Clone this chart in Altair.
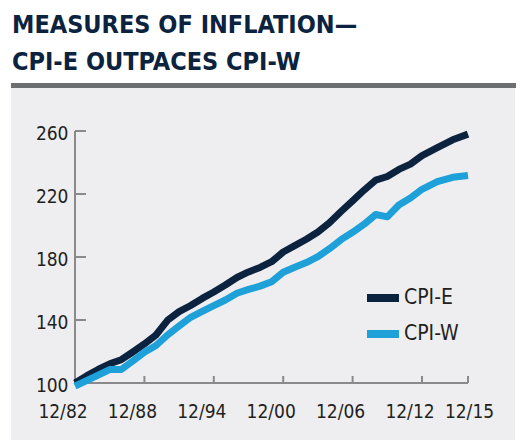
import altair as alt
import pandas as pd

years = list(range(1982, 2016))
cpi_e = [100, 104.5, 108.6, 112.2, 114.8, 119.7, 124.8, 130.5, 139.8, 145.3,
         149.2, 153.7, 157.8, 162.2, 167, 170.5, 173.4, 177, 183.2, 187.2,
         191.3, 195.9, 201.8, 208.9, 215.6, 222.5, 228.8, 231.1, 235.6, 239,
         244.4, 249.4, 254.4, 258]
cpi_w = [98, 101.5, 105, 108.5, 108.6, 114, 119.5, 123.8, 130.5, 136.2,
         141.7, 145.5, 149.2, 152.7, 157, 159.4, 161.5, 164.3, 170.3, 173.5,
         176.5, 180.2, 185.3, 191, 195.7, 200.8, 207, 205.5, 213, 217.5,
         223, 227.8, 230.6, 231.8]
series_names = ["CPI-E", "CPI-W"]
y_ticks = [100, 140, 180, 220, 260]
x_tick_years = [1982, 1988, 1994, 2000, 2006, 2012, 2015]
x_tick_labels = ["12/82", "12/88", "12/94", "12/00", "12/06", "12/12", "12/15"]
title_lines = ["MEASURES OF INFLATION\u2014", "CPI-E OUTPACES CPI-W"]

DARK = "#0c2340"
LIGHT = "#1ea0d9"
AXIS_GRAY = "#8a8a8c"
TEXT = "#231f20"
FONT = "DejaVu Sans Condensed, sans-serif"

W, H = 393, 252

df = pd.DataFrame({
    "year": years * 2,
    "value": cpi_e + cpi_w,
    "series": [series_names[0]] * len(years) + [series_names[1]] * len(years),
})
ticks_df = pd.DataFrame({"t": x_tick_years, "label": x_tick_labels})

# the reference's time axis is stretched over its last three years
xscale = alt.Scale(type="linear", domain=[1982, 2012, 2015], range=[0, 347, W], nice=False, zero=False)
yscale = alt.Scale(domain=[100, 260], nice=False, zero=False)

one = alt.Data(values=[{"a": 1}])

panel = alt.Chart(one).mark_rect(color="#eeeef0").encode(
    x=alt.value(-64), x2=alt.value(440), y=alt.value(-43), y2=alt.value(309)
)
bar = alt.Chart(one).mark_rect(color="#6d6e70").encode(
    x=alt.value(-64), x2=alt.value(460), y=alt.value(-48), y2=alt.value(-43)
)
title = alt.Chart(alt.Data(values=[{"t": "\n".join(title_lines)}])).mark_text(
    font=FONT, fontSize=25, fontWeight="bold", color=DARK, align="left",
    baseline="alphabetic", lineBreak="\n", lineHeight=37
).encode(text="t:N", x=alt.value(-63), y=alt.value(-98))

ydom = alt.Chart(one).mark_rule(color=AXIS_GRAY, strokeWidth=2).encode(
    x=alt.X(datum=1982, type="quantitative", scale=xscale),
    y=alt.Y(datum=100, type="quantitative", scale=yscale),
    y2=alt.Y2(datum=260),
)
xdom = alt.Chart(one).mark_rule(color=AXIS_GRAY, strokeWidth=2).encode(
    x=alt.X(datum=1982, type="quantitative", scale=xscale),
    x2=alt.X2(datum=2015),
    y=alt.Y(datum=100, type="quantitative", scale=yscale),
)
yt = alt.Chart(pd.DataFrame({"v": y_ticks})).mark_rule(color=AXIS_GRAY, strokeWidth=2).encode(
    y=alt.Y("v:Q", scale=yscale), x=alt.value(0), x2=alt.value(11)
)
xt = alt.Chart(ticks_df).mark_rule(color=AXIS_GRAY, strokeWidth=2).encode(
    x=alt.X("t:Q", scale=xscale), y=alt.value(H), y2=alt.value(H - 7)
)

xlab_style = dict(font=FONT, fontSize=19, color=TEXT, align="center", baseline="alphabetic")
xlab_main = alt.Chart(ticks_df).transform_filter("datum.t < 2015").mark_text(dx=-12, **xlab_style).encode(
    x=alt.X("t:Q", scale=xscale), y=alt.value(H + 35), text="label:N"
)
xlab_last = alt.Chart(ticks_df).transform_filter("datum.t == 2015").mark_text(dx=1.5, **xlab_style).encode(
    x=alt.X("t:Q", scale=xscale), y=alt.value(H + 35), text="label:N"
)

lines = alt.Chart(df).mark_line(strokeWidth=7, strokeJoin="round", strokeCap="butt").encode(
    x=alt.X("year:Q", scale=xscale, title=None,
            axis=alt.Axis(values=x_tick_years, labels=False, ticks=False, tickSize=0,
                          domain=False, grid=False)),
    y=alt.Y("value:Q", scale=yscale, title=None,
            axis=alt.Axis(values=y_ticks, ticks=False, tickSize=0, domain=False, grid=False, zindex=2,
                          labelFont=FONT, labelFontSize=19, labelColor=TEXT,
                          labelPadding=7, labelOffset=2)),
    color=alt.Color("series:N", scale=alt.Scale(domain=series_names, range=[DARK, LIGHT]),
                    legend=alt.Legend(title=None, orient="none", legendX=288, legendY=147,
                                      symbolType="stroke", symbolSize=1024, symbolStrokeWidth=8,
                                      labelFont=FONT, labelFontSize=21, labelColor=TEXT,
                                      labelOffset=1, rowPadding=-3, padding=0, zindex=2)),
)

chart = alt.layer(panel, bar, title, ydom, xdom, yt, xt, xlab_main, xlab_last, lines).properties(
    width=W, height=H, background="white",
    padding={"left": 67, "top": 123, "right": 48, "bottom": 57},
    autosize=alt.AutoSizeParams(type="none"),
).configure_view(stroke=None)

chart.save("out.html", embed_options={"renderer": "svg", "actions": False})
